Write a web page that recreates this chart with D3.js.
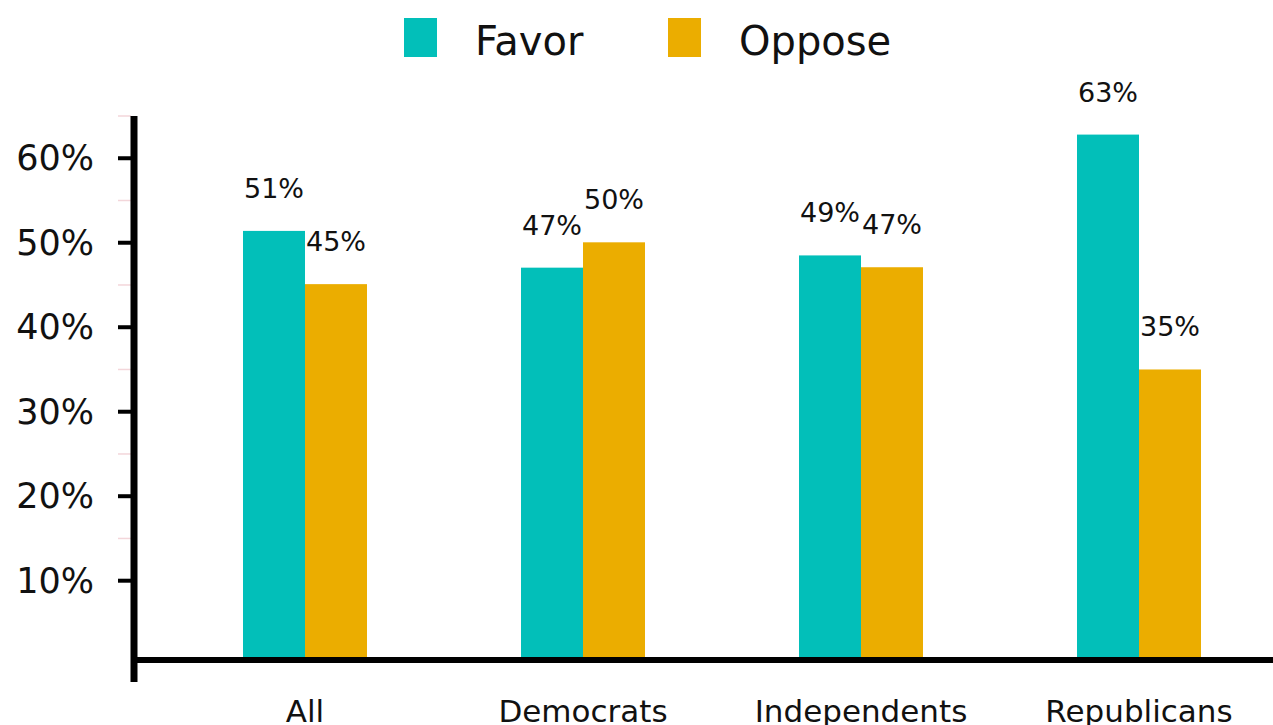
<!DOCTYPE html>
<html>
<head>
<meta charset="utf-8">
<script src="https://cdn.jsdelivr.net/npm/d3@7"></script>
<style>
  html, body { margin: 0; padding: 0; background: #fff; }
  svg { display: block; }
  text { font-family: "DejaVu Sans", sans-serif; fill: #111; }
</style>
</head>
<body>
<svg id="chart" width="1273" height="725"></svg>
<script>
const categories = ["All", "Democrats", "Independents", "Republicans"];
const seriesNames = ["Favor", "Oppose"];
const favorValues = [51.4, 47.05, 48.5, 62.8];
const opposeValues = [45.1, 50.05, 47.1, 35.0];
const favorLabels = ["51%", "47%", "49%", "63%"];
const opposeLabels = ["45%", "50%", "47%", "35%"];
const majorTicks = [10, 20, 30, 40, 50, 60];
const minorTicks = [15, 25, 35, 45, 55, 65];
const colors = ["#02bfb9", "#ebad00"];

const svg = d3.select("#chart");

const axisX = 134, axisY = 660;
const y = d3.scaleLinear().domain([0, 65]).range([665.2, 116]);
const x0 = d3.scaleBand().domain(categories).range([166, 1278]).paddingInner(0.554).paddingOuter(0.277);
const x1 = d3.scaleBand().domain(seriesNames).range([0, x0.bandwidth()]);
const color = d3.scaleOrdinal().domain(seriesNames).range(colors);

const rows = categories.map((c, i) => ({
  cat: c,
  items: [
    { s: "Favor", v: favorValues[i], label: favorLabels[i] },
    { s: "Oppose", v: opposeValues[i], label: opposeLabels[i] }
  ]
}));

// bars
const g = svg.append("g");
const groups = g.selectAll("g.grp").data(rows).enter().append("g")
  .attr("transform", d => `translate(${x0(d.cat)},0)`);
groups.selectAll("rect").data(d => d.items).enter().append("rect")
  .attr("x", d => x1(d.s))
  .attr("y", d => y(d.v))
  .attr("width", x1.bandwidth())
  .attr("height", d => axisY - y(d.v))
  .attr("fill", d => color(d.s));
groups.selectAll("text").data(d => d.items).enter().append("text")
  .attr("x", d => x1(d.s) + x1.bandwidth() / 2)
  .attr("y", d => y(d.v) - 33)
  .attr("text-anchor", "middle")
  .style("font-size", "27px")
  .text(d => d.label);

// minor ticks
svg.selectAll("line.minor").data(minorTicks).enter().append("line")
  .attr("x1", 118).attr("x2", 131)
  .attr("y1", d => y(d)).attr("y2", d => y(d))
  .attr("stroke", "#f3d6da").attr("stroke-width", 1.5);
// major ticks
svg.selectAll("line.major").data(majorTicks).enter().append("line")
  .attr("x1", 118).attr("x2", 131)
  .attr("y1", d => y(d)).attr("y2", d => y(d))
  .attr("stroke", "#000").attr("stroke-width", 4);
svg.selectAll("text.ytick").data(majorTicks).enter().append("text")
  .attr("x", 94).attr("y", d => y(d))
  .attr("text-anchor", "end")
  .attr("dominant-baseline", "central")
  .style("font-size", "35px")
  .text(d => d + "%");

// axes lines
svg.append("line").attr("x1", axisX).attr("x2", 1273).attr("y1", axisY).attr("y2", axisY)
  .attr("stroke", "#000").attr("stroke-width", 6);
svg.append("line").attr("x1", axisX).attr("x2", axisX).attr("y1", y(65)).attr("y2", 682)
  .attr("stroke", "#000").attr("stroke-width", 7);

// category labels
svg.selectAll("text.cat").data(categories).enter().append("text")
  .attr("x", d => x0(d) + x0.bandwidth() / 2)
  .attr("y", 722)
  .attr("text-anchor", "middle")
  .style("font-size", "31px")
  .text(d => d);

// legend
const legendX = [404, 668];
const leg = svg.selectAll("g.leg").data(seriesNames).enter().append("g")
  .attr("transform", (d, i) => `translate(${legendX[i]},0)`);
leg.append("rect").attr("x", 0).attr("y", 18).attr("width", 33).attr("height", 39)
  .attr("fill", d => color(d));
leg.append("text").attr("x", 71).attr("y", 55)
  .style("font-size", "40px")
  .text(d => d);
</script>
</body>
</html>
